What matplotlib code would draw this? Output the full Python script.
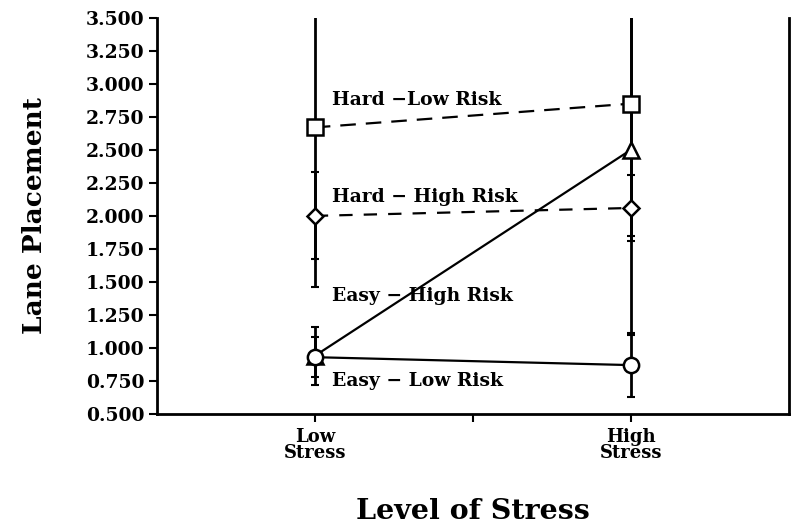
import matplotlib.pyplot as plt

# stress levels on the x axis
stress_pos = [1, 3]
stress_labels = ["Low\nStress", "High\nStress"]

# lane placement means
hard_low = [2.67, 2.85]
hard_high = [2.00, 2.06]
easy_high = [0.94, 2.50]
easy_low = [0.93, 0.87]

# error bars
hard_low_err = [1.21, 1.00]
hard_high_err = [0.33, 0.25]
easy_high_err = [0.22, 1.40]
easy_low_err = [0.15, 0.24]

yticks = [0.5, 0.75, 1.0, 1.25, 1.5, 1.75, 2.0, 2.25, 2.5, 2.75, 3.0, 3.25, 3.5]

font = "DejaVu Serif"

fig = plt.figure(figsize=(7.92, 5.24), dpi=100)
ax = fig.add_axes([0.198, 0.21, 0.798, 0.756])

series = [
    (hard_low, hard_low_err, "s", (0, (7, 4.5)), "Hard \u2212Low Risk", 2.88),
    (hard_high, hard_high_err, "D", (0, (6, 5)), "Hard \u2212 High Risk", 2.14),
    (easy_high, easy_high_err, "^", "-", "Easy \u2212 High Risk", 1.39),
    (easy_low, easy_low_err, "o", "-", "Easy \u2212 Low Risk", 0.75),
]

for vals, err, mk, ls, label, ytxt in series:
    ax.errorbar(stress_pos, vals, yerr=err, fmt="none", ecolor="black",
                elinewidth=2, capsize=3, capthick=1.5, zorder=2)
    ax.plot(stress_pos, vals, linestyle=ls, color="black", linewidth=1.6,
            marker=mk, markersize=11 if mk != "D" else 8,
            markerfacecolor="white", markeredgecolor="black",
            markeredgewidth=1.8, zorder=3)
    ax.text(1.11, ytxt, label, fontsize=13.5, fontweight="bold",
            family=font, ha="left", va="center")

ax.set_xlim(0, 4)
ax.set_ylim(0.5, 3.5)
ax.set_xticks([1, 2, 3])
ax.set_xticklabels([stress_labels[0], "", stress_labels[1]],
                   fontsize=13, fontweight="bold", family=font, linespacing=0.85)
ax.set_yticks(yticks)
ax.set_yticklabels(["%.3f" % v for v in yticks], fontsize=13.5,
                   fontweight="bold", family=font)

ax.spines["top"].set_visible(False)
for s in ["left", "bottom", "right"]:
    ax.spines[s].set_linewidth(2)
ax.tick_params(axis="both", direction="out", length=6, width=1.5)
ax.tick_params(axis="x", pad=4)
ax.tick_params(axis="y", pad=3)

ax.set_ylabel("Lane Placement", fontsize=19, fontweight="bold",
              family=font, labelpad=28)
ax.set_xlabel("Level of Stress", fontsize=20.5, fontweight="bold",
              family=font, labelpad=26)

fig.savefig("out.png", dpi=100)
